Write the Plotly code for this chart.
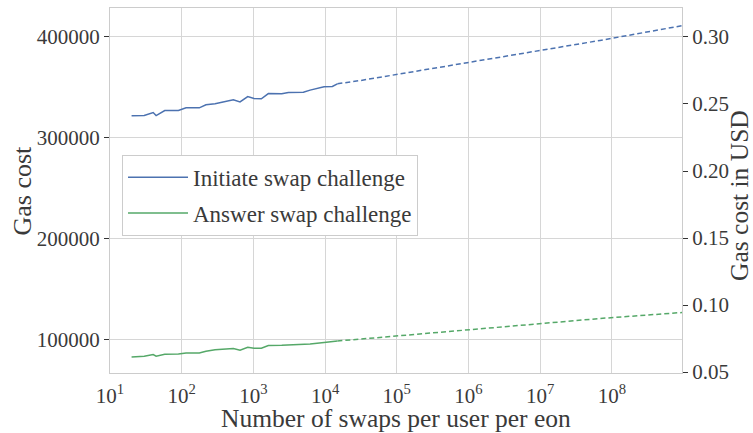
import plotly.graph_objects as go

# ---- data ----
swaps_measured = [20, 30, 40, 44, 58, 90, 115, 176, 218, 292, 525, 651, 834, 1021,
                  1291, 1617, 2487, 3076, 4981, 6177, 9684, 12641, 14840]
initiate_gas = [321400, 321680, 324650, 321680, 326640, 326640, 329300, 329300, 332290,
                333280, 337250, 335260, 340520, 338530, 338240, 343490, 343190, 344480,
                344880, 346860, 350130, 350430, 353110]
answer_gas = [82760, 83450, 85140, 83450, 85440, 85730, 86720, 86720, 88410, 89890,
              91080, 89390, 92370, 91380, 91380, 94060, 94350, 94650, 94650, 95640,
              97030, 98020, 98620]

swaps_projected = [14840, 30770, 6.82e7, 9.5e8]
initiate_proj = [353110, 356300, 396030, 410610]
answer_proj = [98620, 100400, 120830, 126770]

x_tick_exp = [1, 2, 3, 4, 5, 6, 7, 8]
left_ticks = [100000, 200000, 300000, 400000]
right_ticks = [0.05, 0.10, 0.15, 0.20, 0.25, 0.30]

BLUE = "#4C72B0"
GREEN = "#55A868"
TXT = "#3a3a3a"
GRID = "#d6d6d6"
FONT = "Liberation Serif"

fig = go.Figure()
fig.add_trace(go.Scatter(x=swaps_measured, y=initiate_gas, mode="lines", legendgroup="a",
                         line=dict(color=BLUE, width=1.5), name="Initiate swap challenge"))
fig.add_trace(go.Scatter(x=swaps_measured, y=answer_gas, mode="lines", legendgroup="b",
                         line=dict(color=GREEN, width=1.5), name="Answer swap challenge"))
fig.add_trace(go.Scatter(x=swaps_projected, y=initiate_proj, mode="lines", legendgroup="a",
                         line=dict(color=BLUE, width=1.5, dash="5px,3px"), showlegend=False))
fig.add_trace(go.Scatter(x=swaps_projected, y=answer_proj, mode="lines", legendgroup="b",
                         line=dict(color=GREEN, width=1.5, dash="5px,3px"), showlegend=False))
fig.add_trace(go.Scatter(x=[], y=[], yaxis="y2", showlegend=False))

title_font = dict(size=26, family=FONT, color=TXT)

fig.update_layout(
    width=753, height=433,
    margin=dict(l=110, r=71, t=8, b=60, autoexpand=False),
    paper_bgcolor="white", plot_bgcolor="white",
    font=dict(family=FONT, color=TXT, size=21),
    xaxis=dict(
        type="log", range=[1, 8.978], automargin=False,
        tickvals=[10 ** e for e in x_tick_exp],
        ticktext=[f"10<sup>{e}</sup>" for e in x_tick_exp],
        showgrid=True, gridcolor=GRID, gridwidth=1.2,
        showline=True, linecolor="#cccccc", linewidth=1.2, mirror=True,
        ticks="", ticklabelstandoff=4,
        tickfont=dict(size=21, family=FONT, color=TXT),
        zeroline=False,
    ),
    yaxis=dict(
        range=[66890, 428150], automargin=False,
        tickvals=left_ticks, ticktext=[str(v) for v in left_ticks],
        showgrid=True, gridcolor=GRID, gridwidth=1.2,
        showline=True, linecolor="#cccccc", linewidth=1.2, mirror=True,
        ticks="outside", ticklen=5, tickwidth=1.2, tickcolor="#333333",
        tickfont=dict(size=21, family=FONT, color=TXT),
        zeroline=False,
    ),
    yaxis2=dict(
        overlaying="y", side="right", anchor="x", automargin=False,
        range=[0.0493, 0.3216],
        tickvals=right_ticks, ticktext=[f"{v:.2f}" for v in right_ticks],
        showgrid=False, showline=False,
        ticks="outside", ticklen=5, tickwidth=1.2, tickcolor="#333333",
        tickfont=dict(size=21, family=FONT, color=TXT),
        zeroline=False,
    ),
    legend=dict(
        x=0.021, y=0.598, xanchor="left", yanchor="top",
        bgcolor="white", bordercolor="#cccccc", borderwidth=1,
        font=dict(size=23, family=FONT, color=TXT),
        itemwidth=60, tracegroupgap=3,
    ),
    annotations=[
        dict(text="Number of swaps per user per eon", xref="paper", yref="paper",
             x=0.5, y=0, yshift=-45, xanchor="center", yanchor="middle",
             showarrow=False, font=dict(size=25.5, family=FONT, color=TXT)),
        dict(text="Gas cost", xref="paper", yref="paper", x=0, xshift=-88, y=0.5,
             xanchor="center", yanchor="middle", textangle=-90,
             showarrow=False, font=title_font),
        dict(text="Gas cost in USD", xref="paper", yref="paper", x=1, xshift=58, y=0.485,
             xanchor="center", yanchor="middle", textangle=-90,
             showarrow=False, font=dict(size=25.5, family=FONT, color=TXT)),
    ],
)

fig.write_html("out.html", config={"displayModeBar": False},
               post_script="document.body.style.margin='0';")
